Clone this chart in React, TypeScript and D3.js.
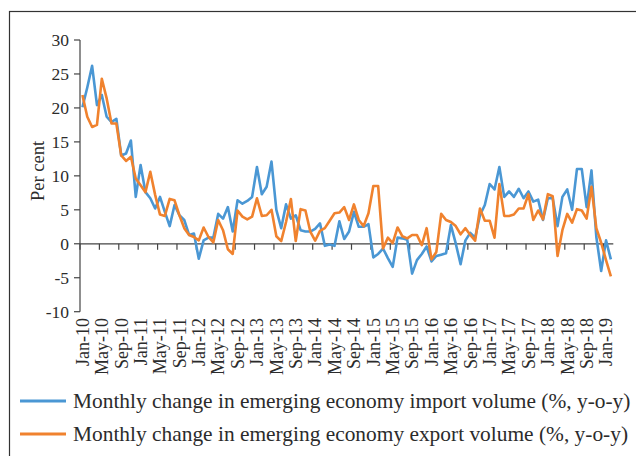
import React from "react";
import * as d3 from "d3";

const importVolume: number[] = [
  20.1, 23, 26.2, 20.4, 21.9, 18.7, 17.9, 18.4, 13, 13.3, 15.2, 6.9, 11.6, 7.6, 6.7, 5.2, 6.9, 4.7, 2.6, 5.7,
  4.2, 3.5, 1.3, 1.5, -2.2, 0.5, 0.9, 0.9, 4.4, 3.7, 5.4, 1.8, 6.4, 5.9, 6.3, 6.9, 11.3, 7.3, 8.4, 12.1,
  5.0, 2.3, 5.8, 3.7, 4.2, 2.0, 1.8, 1.8, 2.2, 3.0, -0.3, -0.1, -0.3, 3.3, 0.7, 1.8, 4.7, 2.5, 2.5, 2.9,
  -2.0, -1.5, -0.7, -2.1, -3.4, 0.9, 0.8, 0.6, -4.4, -2.4, -1.5, -0.4, -2.6, -1.8, -1.6, -1.4, 2.75, 0.05, -3.0, 0.5,
  1.6, 0.9, 4.2, 5.7, 8.8, 8.0, 11.3, 6.9, 7.7, 6.9, 8.1, 6.7, 7.7, 6.2, 6.5, 3.5, 6.7, 6.7, 2.6, 6.9,
  8.0, 5.0, 11.0, 11.0, 5.4, 10.8, 1.0, -4.0, 0.5, -2.3,
];

const exportVolume: number[] = [
  21.9, 18.7, 17.2, 17.5, 24.3, 21.4, 17.7, 17.7, 13.0, 12.2, 12.8, 9.6, 8.6, 7.6, 10.6, 7.2, 4.3, 4.1, 6.6, 6.4,
  4.2, 2.3, 1.3, 1.0, 0.5, 2.4, 1.0, 0.2, 3.5, 2.0, -0.8, -1.5, 4.9, 4.0, 3.6, 4.0, 6.7, 4.1, 4.2, 5.0,
  1.1, 0.4, 3.2, 6.6, 0.4, 5.1, 4.9, 1.8, 0.45, 1.9, 2.3, 3.4, 4.5, 4.6, 5.4, 3.5, 5.8, 3.5, 2.6, 4.5,
  8.5, 8.5, -0.7, 0.9, 0.1, 2.4, 1.1, 0.8, 1.3, 1.3, -0.2, 2.3, -2.3, -1.2, 4.4, 3.5, 3.2, 2.6, 1.4, 2.3,
  1.3, 0.45, 5.2, 3.4, 3.4, 0.9, 8.8, 4.1, 4.1, 4.3, 5.2, 5.2, 7.3, 3.5, 4.9, 3.6, 7.3, 7.0, -1.8, 2.0,
  4.4, 3.1, 5.1, 4.9, 3.7, 8.4, 2.3, 0.15, -2.4, -4.8,
];

const categories: string[] = d3
  .timeMonth.range(new Date(2010, 0, 1), new Date(2019, 2, 1))
  .map((d) => d3.timeFormat("%b-%y")(d));

const yTicks: number[] = [-10, -5, 0, 5, 10, 15, 20, 25, 30];

const seriesNames: string[] = [
  "Monthly change in emerging economy import volume (%, y-o-y)",
  "Monthly change in emerging economy export volume (%, y-o-y)",
];
const seriesColors: string[] = ["#4a97d4", "#f0822e"];

const FONT = "'Liberation Serif', serif";
const TEXT = "#2b2b2b";

export default function App() {
  const x = d3.scaleBand<string>().domain(categories).range([80, 613.3]).paddingInner(0).paddingOuter(0);
  const bw = x.bandwidth();
  const y = d3.scaleLinear().domain([-10, 30]).range([311.7, 40]);
  const line = d3
    .line<number>()
    .x((_, i) => (x(categories[i]) as number) + bw / 2)
    .y((d) => y(d));

  const tickIdx = categories.map((_, i) => i).filter((i) => i % 4 === 0);

  return (
    <svg
      width={636}
      height={456}
      style={{ position: "absolute", left: 0, top: 0, background: "#fff" }}
      fontFamily={FONT}
    >
      <rect x={9.5} y={11.5} width={700} height={500} fill="none" stroke="#333" strokeWidth={1.2} />

      {/* y axis */}
      <line x1={80} x2={80} y1={y(30)} y2={y(-10)} stroke="#444" strokeWidth={1.2} />
      {yTicks.map((t) => (
        <g key={t}>
          <line x1={74} x2={80} y1={y(t)} y2={y(t)} stroke="#444" strokeWidth={1.2} />
          <text x={69} y={y(t)} dy="0.35em" textAnchor="end" fontSize={17.5} fill={TEXT}>
            {t}
          </text>
        </g>
      ))}
      <text
        transform={`translate(38,171) rotate(-90)`}
        textAnchor="middle"
        dy="0.35em"
        fontSize={18.5}
        fill={TEXT}
      >
        Per cent
      </text>

      {/* x axis */}
      <line x1={80} x2={613.3} y1={y(0)} y2={y(0)} stroke="#444" strokeWidth={1.2} />
      {tickIdx.map((i) => (
        <line
          key={"t" + i}
          x1={x(categories[i]) as number}
          x2={x(categories[i]) as number}
          y1={y(0)}
          y2={y(0) + 6}
          stroke="#444"
          strokeWidth={1.2}
        />
      ))}
      {tickIdx.map((i) => {
        const cx = (x(categories[i]) as number) + bw / 2;
        return (
          <text
            key={"l" + i}
            transform={`translate(${cx},318) rotate(-90)`}
            textAnchor="end"
            dy="0.35em"
            fontSize={18}
            fill={TEXT}
          >
            {categories[i]}
          </text>
        );
      })}

      {/* series */}
      <path d={line(importVolume) || ""} fill="none" stroke={seriesColors[0]} strokeWidth={2.6} strokeLinejoin="round" />
      <path d={line(exportVolume) || ""} fill="none" stroke={seriesColors[1]} strokeWidth={2.6} strokeLinejoin="round" />

      {/* legend */}
      {seriesNames.map((n, k) => (
        <g key={n}>
          <line x1={20} x2={66} y1={401 + k * 33} y2={401 + k * 33} stroke={seriesColors[k]} strokeWidth={3} />
          <text x={73} y={401 + k * 33} dy="0.35em" fontSize={21.4} fill={TEXT}>
            {n}
          </text>
        </g>
      ))}
    </svg>
  );
}
